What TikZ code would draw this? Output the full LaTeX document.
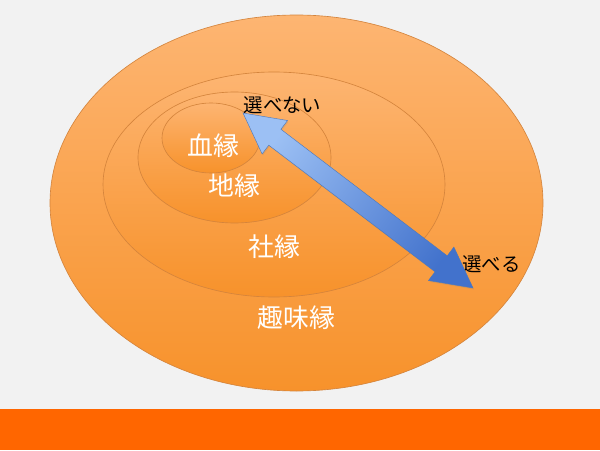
\documentclass[tikz,border=0pt]{standalone}
\usepackage{fontspec}
\setmainfont{Noto Sans CJK JP}
\usetikzlibrary{shadows}
\definecolor{bgray}{HTML}{F2F2F2}
\definecolor{mbar}{HTML}{FF6600}
\definecolor{otop}{HTML}{FDB572}
\definecolor{obot}{HTML}{F7922B}
\definecolor{oline}{HTML}{D4843C}
\definecolor{alight}{HTML}{9CC0F4}
\definecolor{adark}{HTML}{4272CC}
\definecolor{aline}{HTML}{4A78BE}
\tikzset{
  ring/.style={draw=oline, line width=0.45pt, top color=otop, bottom color=obot},
  bigword/.style={text=white, inner sep=0pt, font=\fontsize{18.4}{22}\selectfont},
  smallword/.style={text=black, inner sep=0pt, font=\fontsize{13.8}{16}\selectfont},
}

\begin{document}
\begin{tikzpicture}[x=0.025cm, y=0.025cm]
    \fill [bgray] (0, 0) rectangle (600, 450);
    \useasboundingbox (0, 0) rectangle (600, 450);
    \fill [mbar] (0, 0) rectangle (600, 41);

    \shade [ring] (296.5, 247) ellipse (246.5 and 188);
    \shade [ring] (274, 265.5) ellipse (171 and 112.5);
    \shade [ring] (234.5, 292.5) ellipse (96.5 and 65.5);
    \shade [ring] (211, 312) ellipse (49 and 35);

    \node [bigword] (ketsuen) at (213, 304) {血縁};
    \node [bigword] (chien) at (234, 264) {地縁};
    \node [bigword] (shaen) at (274, 203) {社縁};
    \node [bigword] (shumien) at (296.5, 132) {趣味縁};

    \node [smallword] (erabenai) at (282.5, 345) {選べない};
    \node [smallword] (eraberu) at (491.5, 186) {選べる};

    \coordinate (hardend) at (243, 337);
    \coordinate (softend) at (473, 162);

    \shade [draw=aline, line width=0.3pt, top color=alight, bottom color=adark, shading angle=52.7,
            drop shadow={opacity=0.2, shadow xshift=0.6pt, shadow yshift=-1pt}]
        (hardend) -- ++(44.55, -7.51) -- ++(-6.66, -8.75) -- ++(166.34, -126.56)
        -- ++(6.66, 8.75) -- (softend) -- ++(-44.55, 7.51) -- ++(6.66, 8.75)
        -- ++(-166.34, 126.56) -- ++(-6.66, -8.75) -- cycle;
\end{tikzpicture}
\end{document}
